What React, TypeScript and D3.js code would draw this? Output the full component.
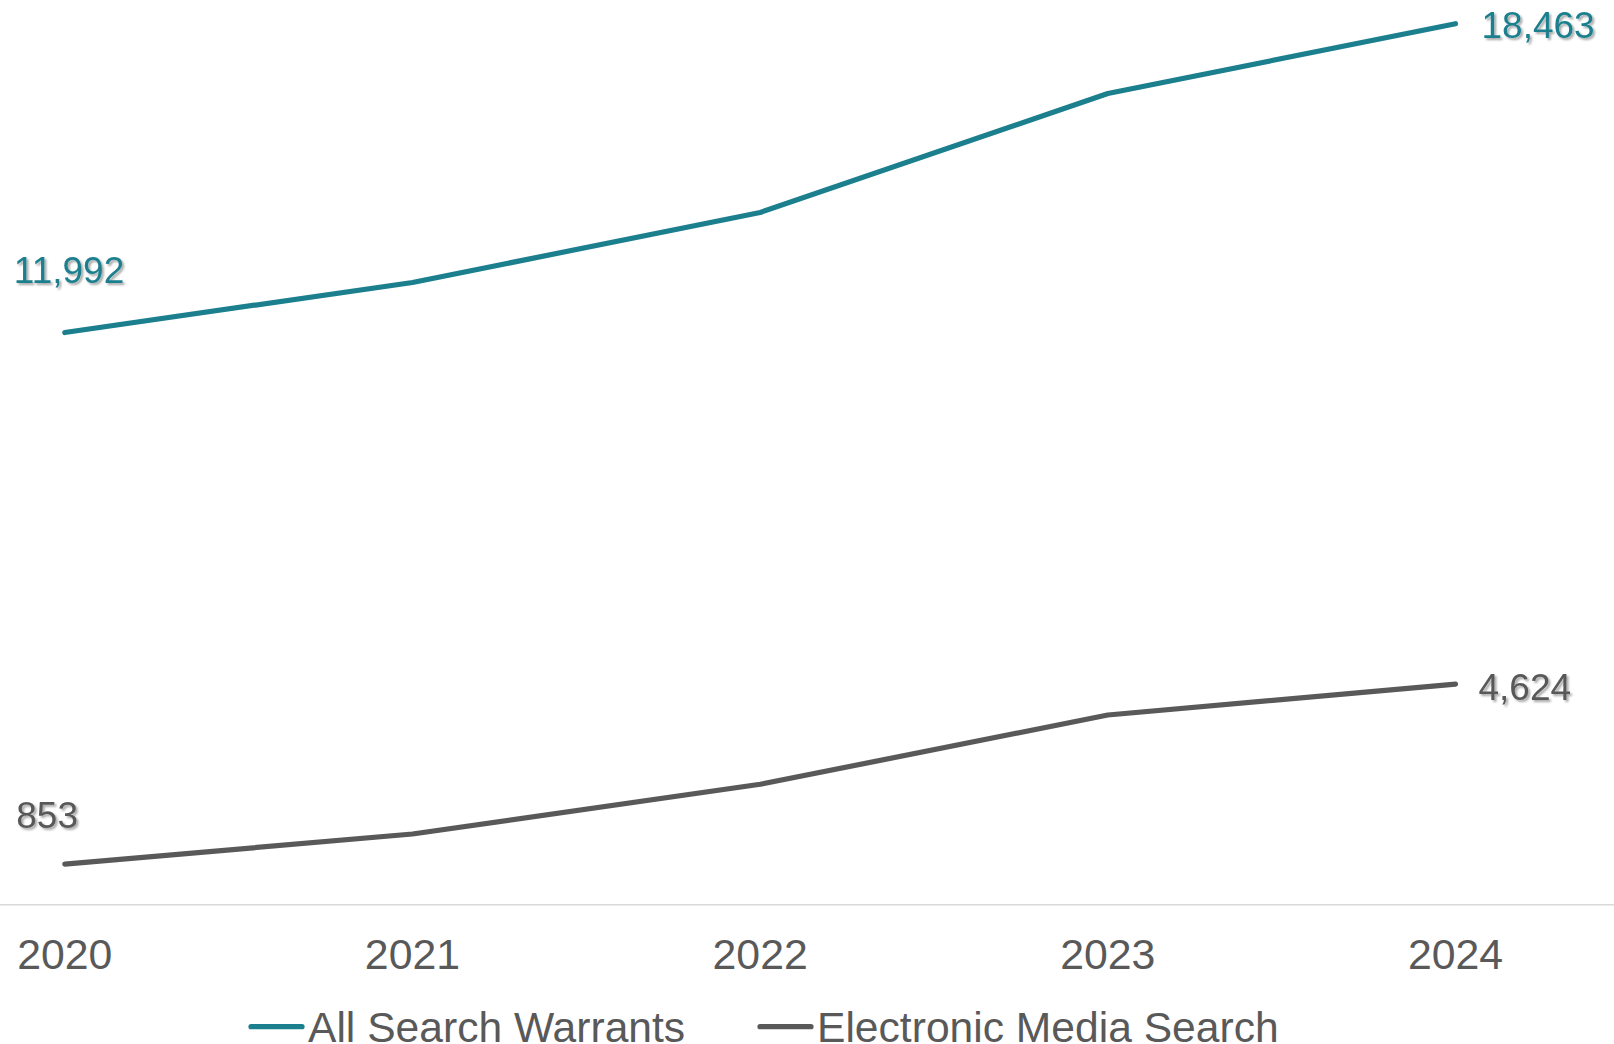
import React from "react";
import * as d3 from "d3";

const years = ["2020", "2021", "2022", "2023", "2024"];
const allWarrants = [11992, 13041, 14507, 17000, 18463];
const electronicMedia = [853, 1484, 2525, 3977, 4624];
const seriesNames = ["All Search Warrants", "Electronic Media Search"];
const seriesColors = ["#1B7F8E", "#595959"];

const W = 1614;
const H = 1044;

export default function App() {
  const x = d3.scalePoint<string>().domain(years).range([64.8, 1455.5]);
  const y = d3.scaleLinear().domain([0, 18463]).range([904.8, 23.7]);
  const line = d3
    .line<number>()
    .x((_, i) => x(years[i]) as number)
    .y((d) => y(d));

  const series = [allWarrants, electronicMedia];
  const font = "Arial, 'Liberation Sans', sans-serif";
  const fmt = d3.format(",");

  const firstOff = [
    { dx: -51, dy: -49.5 },
    { dx: -48.5, dy: -36 },
  ];
  const lastOff = [
    { dx: 26, dy: 14 },
    { dx: 23, dy: 15.5 },
  ];

  return (
    <div style={{ position: "fixed", left: 0, top: 0 }}>
      <svg width={W} height={H} style={{ display: "block", background: "#fff" }}>
        <defs>
          <filter id="shadow" x="-10%" y="-20%" width="130%" height="160%">
            <feDropShadow dx="2" dy="2" stdDeviation="1" floodColor="#000" floodOpacity="0.35" />
          </filter>
        </defs>
        <line x1={0} x2={W} y1={y(0)} y2={y(0)} stroke="#d9d9d9" strokeWidth={1.5} />
        {years.map((yr) => (
          <text
            key={yr}
            x={x(yr)}
            y={969}
            textAnchor="middle"
            fontFamily={font}
            fontSize={42.8}
            fill="#595959"
          >
            {yr}
          </text>
        ))}
        {series.map((s, si) => (
          <path
            key={si}
            d={line(s) || ""}
            fill="none"
            stroke={seriesColors[si]}
            strokeWidth={5.2}
            strokeLinejoin="round"
            strokeLinecap="round"
          />
        ))}
        {series.map((s, si) => {
          const n = s.length - 1;
          return (
            <g key={"lab" + si} filter="url(#shadow)">
              <text
                x={(x(years[0]) as number) + firstOff[si].dx}
                y={y(s[0]) + firstOff[si].dy}
                fontFamily={font}
                fontSize={37}
                fill={seriesColors[si]}
              >
                {fmt(s[0])}
              </text>
              <text
                x={(x(years[n]) as number) + lastOff[si].dx}
                y={y(s[n]) + lastOff[si].dy}
                fontFamily={font}
                fontSize={37}
                fill={seriesColors[si]}
              >
                {fmt(s[n])}
              </text>
            </g>
          );
        })}
        {seriesNames.map((name, i) => {
          const lx = [249, 758][i];
          return (
            <g key={name}>
              <line
                x1={lx + 2}
                x2={lx + 53}
                y1={1026.7}
                y2={1026.7}
                stroke={seriesColors[i]}
                strokeWidth={5.2}
                strokeLinecap="round"
              />
              <text x={lx + 59} y={1042} fontFamily={font} fontSize={42.6} fill="#595959">
                {name}
              </text>
            </g>
          );
        })}
      </svg>
    </div>
  );
}
